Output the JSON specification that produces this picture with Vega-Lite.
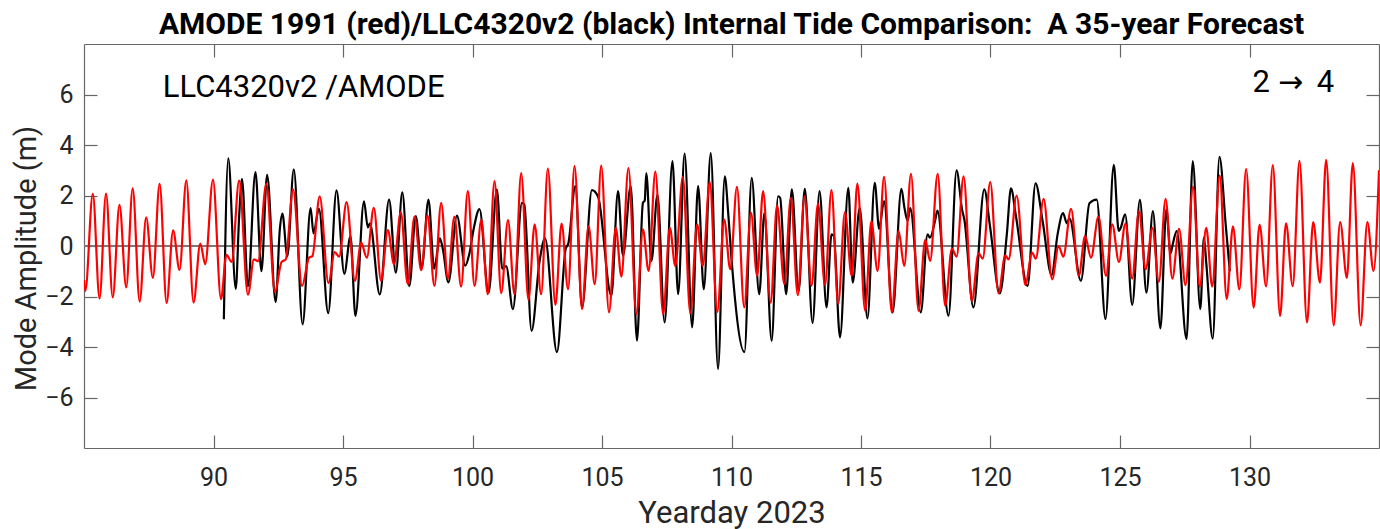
{
  "$schema": "https://vega.github.io/schema/vega-lite/v6.json",
  "width": 1295,
  "height": 404,
  "autosize": {"type": "none"},
  "padding": {"left": 84, "top": 44, "right": 1, "bottom": 81},
  "background": "white",
  "config": {"view": {"stroke": null}, "font": "Roboto", "axis": {"grid": false}},
  "title": {"text": "AMODE 1991 (red)/LLC4320v2 (black) Internal Tide Comparison: \u00a0A 35-year Forecast", "font": "Roboto", "fontSize": 30, "fontWeight": "bold", "color": "#000000", "offset": -21, "baseline": "alphabetic", "anchor": "middle", "frame": "group"},
  "datasets": {
    "red": [
      {"day":85.0,"amp":-1.35},{"day":85.05,"amp":-1.78},{"day":85.34,"amp":2.07},{"day":85.6,"amp":-2.08},{"day":85.85,"amp":2.08},{"day":86.11,"amp":-2.04},{"day":86.37,"amp":1.63},{"day":86.63,"amp":-1.64},{"day":86.88,"amp":2.28},{"day":87.15,"amp":-2.2},{"day":87.4,"amp":1.13},{"day":87.66,"amp":-1.26},{"day":87.92,"amp":2.46},{"day":88.19,"amp":-2.26},{"day":88.44,"amp":0.62},{"day":88.69,"amp":-0.95},{"day":88.95,"amp":2.6},{"day":89.23,"amp":-2.24},{"day":89.49,"amp":0.1},{"day":89.68,"amp":-0.72},{"day":89.98,"amp":2.63},{"day":90.29,"amp":-2.1},{"day":90.5,"amp":-0.35},{"day":90.7,"amp":-0.63},{"day":90.99,"amp":2.59},{"day":91.33,"amp":-1.93},{"day":91.56,"amp":-0.53},{"day":91.72,"amp":-0.6},{"day":92.04,"amp":2.46},{"day":92.37,"amp":-1.82},{"day":92.63,"amp":-0.63},{"day":92.79,"amp":-0.53},{"day":93.07,"amp":2.24},{"day":93.42,"amp":-1.58},{"day":93.69,"amp":-0.46},{"day":93.82,"amp":-0.4},{"day":94.1,"amp":1.97},{"day":94.44,"amp":-1.47},{"day":94.68,"amp":-0.24},{"day":94.85,"amp":-0.42},{"day":95.14,"amp":1.74},{"day":95.46,"amp":-1.38},{"day":95.7,"amp":0.13},{"day":95.92,"amp":-0.46},{"day":96.19,"amp":1.51},{"day":96.47,"amp":-1.38},{"day":96.73,"amp":0.63},{"day":96.97,"amp":-0.72},{"day":97.23,"amp":1.34},{"day":97.5,"amp":-1.51},{"day":97.76,"amp":1.16},{"day":98.02,"amp":-0.96},{"day":98.26,"amp":1.21},{"day":98.53,"amp":-1.58},{"day":98.79,"amp":1.71},{"day":99.05,"amp":-1.29},{"day":99.3,"amp":1.16},{"day":99.56,"amp":-1.61},{"day":99.82,"amp":2.17},{"day":100.08,"amp":-1.58},{"day":100.34,"amp":1.05},{"day":100.59,"amp":-1.91},{"day":100.85,"amp":2.57},{"day":101.11,"amp":-1.87},{"day":101.37,"amp":1.03},{"day":101.62,"amp":-1.91},{"day":101.88,"amp":2.89},{"day":102.16,"amp":-2.13},{"day":102.4,"amp":0.86},{"day":102.65,"amp":-1.91},{"day":102.91,"amp":3.07},{"day":103.2,"amp":-2.33},{"day":103.44,"amp":0.89},{"day":103.69,"amp":-1.71},{"day":103.94,"amp":3.16},{"day":104.23,"amp":-2.5},{"day":104.48,"amp":0.79},{"day":104.72,"amp":-1.51},{"day":104.97,"amp":3.18},{"day":105.27,"amp":-2.63},{"day":105.53,"amp":0.72},{"day":105.75,"amp":-1.21},{"day":106.02,"amp":3.09},{"day":106.33,"amp":-2.7},{"day":106.58,"amp":0.66},{"day":106.8,"amp":-0.99},{"day":107.06,"amp":2.95},{"day":107.36,"amp":-2.7},{"day":107.62,"amp":0.72},{"day":107.83,"amp":-0.79},{"day":108.12,"amp":2.74},{"day":108.41,"amp":-2.66},{"day":108.67,"amp":0.86},{"day":108.89,"amp":-0.79},{"day":109.16,"amp":2.53},{"day":109.45,"amp":-2.61},{"day":109.72,"amp":1.05},{"day":109.95,"amp":-0.92},{"day":110.21,"amp":2.34},{"day":110.49,"amp":-2.43},{"day":110.75,"amp":1.32},{"day":110.99,"amp":-1.18},{"day":111.22,"amp":2.17},{"day":111.51,"amp":-2.24},{"day":111.76,"amp":1.61},{"day":112.04,"amp":-1.51},{"day":112.29,"amp":1.91},{"day":112.56,"amp":-1.95},{"day":112.82,"amp":1.97},{"day":113.09,"amp":-1.58},{"day":113.34,"amp":1.68},{"day":113.61,"amp":-1.55},{"day":113.86,"amp":2.21},{"day":114.12,"amp":-2.28},{"day":114.38,"amp":1.34},{"day":114.64,"amp":-1.18},{"day":114.86,"amp":2.47},{"day":115.16,"amp":-2.57},{"day":115.4,"amp":0.99},{"day":115.64,"amp":-0.99},{"day":115.89,"amp":2.74},{"day":116.19,"amp":-2.63},{"day":116.45,"amp":0.59},{"day":116.67,"amp":-0.79},{"day":116.93,"amp":2.86},{"day":117.22,"amp":-2.57},{"day":117.48,"amp":0.24},{"day":117.67,"amp":-0.59},{"day":117.96,"amp":2.86},{"day":118.25,"amp":-2.37},{"day":118.51,"amp":-0.1},{"day":118.69,"amp":-0.42},{"day":118.96,"amp":2.76},{"day":119.28,"amp":-2.17},{"day":119.54,"amp":-0.29},{"day":119.7,"amp":-0.5},{"day":119.99,"amp":2.53},{"day":120.31,"amp":-1.87},{"day":120.57,"amp":-0.37},{"day":120.7,"amp":-0.53},{"day":121.01,"amp":2.0},{"day":121.35,"amp":-1.55},{"day":121.6,"amp":-0.26},{"day":121.75,"amp":-0.5},{"day":122.05,"amp":1.87},{"day":122.38,"amp":-1.32},{"day":122.63,"amp":0.0},{"day":122.81,"amp":-0.42},{"day":123.11,"amp":1.47},{"day":123.41,"amp":-1.18},{"day":123.65,"amp":0.39},{"day":123.88,"amp":-0.46},{"day":124.17,"amp":1.16},{"day":124.46,"amp":-1.18},{"day":124.7,"amp":0.86},{"day":124.96,"amp":-0.63},{"day":125.21,"amp":0.89},{"day":125.47,"amp":-1.29},{"day":125.73,"amp":1.38},{"day":125.99,"amp":-0.92},{"day":126.25,"amp":0.72},{"day":126.5,"amp":-1.42},{"day":126.76,"amp":1.87},{"day":127.02,"amp":-1.29},{"day":127.28,"amp":0.68},{"day":127.53,"amp":-1.55},{"day":127.82,"amp":2.34},{"day":128.08,"amp":-1.61},{"day":128.33,"amp":0.72},{"day":128.56,"amp":-1.61},{"day":128.85,"amp":2.79},{"day":129.12,"amp":-2.1},{"day":129.36,"amp":0.78},{"day":129.61,"amp":-1.72},{"day":129.87,"amp":3.05},{"day":130.16,"amp":-2.44},{"day":130.39,"amp":0.85},{"day":130.64,"amp":-1.6},{"day":130.9,"amp":3.2},{"day":131.18,"amp":-2.77},{"day":131.41,"amp":0.9},{"day":131.67,"amp":-1.59},{"day":131.93,"amp":3.37},{"day":132.22,"amp":-3.03},{"day":132.46,"amp":0.95},{"day":132.72,"amp":-1.45},{"day":132.96,"amp":3.41},{"day":133.25,"amp":-3.14},{"day":133.5,"amp":0.95},{"day":133.76,"amp":-1.26},{"day":133.99,"amp":3.28},{"day":134.29,"amp":-3.14},{"day":134.55,"amp":0.95},{"day":134.79,"amp":-0.99},{"day":135.0,"amp":3.0}
    ],
    "black": [
      {"day":90.4,"amp":-2.9},{"day":90.57,"amp":3.47},{"day":90.86,"amp":-1.7},{"day":90.99,"amp":1.17},{"day":91.1,"amp":2.65},{"day":91.33,"amp":-1.6},{"day":91.62,"amp":2.93},{"day":91.85,"amp":-1.0},{"day":92.07,"amp":2.82},{"day":92.4,"amp":-2.22},{"day":92.56,"amp":0.65},{"day":92.66,"amp":1.28},{"day":92.85,"amp":-0.41},{"day":93.1,"amp":3.04},{"day":93.44,"amp":-3.1},{"day":93.75,"amp":1.5},{"day":93.86,"amp":0.5},{"day":94.07,"amp":1.47},{"day":94.43,"amp":-2.66},{"day":94.75,"amp":2.2},{"day":95.05,"amp":-1.1},{"day":95.29,"amp":0.39},{"day":95.48,"amp":-2.77},{"day":95.81,"amp":1.77},{"day":95.96,"amp":0.74},{"day":96.04,"amp":0.9},{"day":96.42,"amp":-1.92},{"day":96.78,"amp":1.84},{"day":97.04,"amp":-1.06},{"day":97.29,"amp":2.12},{"day":97.56,"amp":-1.59},{"day":97.81,"amp":1.18},{"day":98.04,"amp":-0.88},{"day":98.3,"amp":1.84},{"day":98.52,"amp":-0.9},{"day":98.74,"amp":0.3},{"day":98.86,"amp":-0.15},{"day":99.07,"amp":-1.44},{"day":99.4,"amp":1.2},{"day":99.72,"amp":-0.78},{"day":99.88,"amp":-0.3},{"day":100.05,"amp":0.7},{"day":100.27,"amp":1.46},{"day":100.62,"amp":-1.85},{"day":100.94,"amp":2.23},{"day":101.15,"amp":-0.9},{"day":101.3,"amp":-0.8},{"day":101.56,"amp":-2.5},{"day":101.91,"amp":1.71},{"day":102.0,"amp":1.65},{"day":102.28,"amp":-3.36},{"day":102.59,"amp":-0.6},{"day":102.8,"amp":0.3},{"day":103.26,"amp":-4.2},{"day":103.6,"amp":-0.1},{"day":103.7,"amp":0.1},{"day":103.97,"amp":2.37},{"day":104.23,"amp":-2.43},{"day":104.61,"amp":2.21},{"day":104.85,"amp":1.95},{"day":105.36,"amp":-1.97},{"day":105.62,"amp":2.17},{"day":105.81,"amp":-0.39},{"day":106.11,"amp":2.37},{"day":106.35,"amp":-3.75},{"day":106.58,"amp":1.71},{"day":106.65,"amp":1.8},{"day":106.71,"amp":2.89},{"day":106.91,"amp":-0.59},{"day":107.14,"amp":2.04},{"day":107.42,"amp":-3.03},{"day":107.72,"amp":3.36},{"day":107.94,"amp":-1.91},{"day":108.19,"amp":3.66},{"day":108.48,"amp":-3.22},{"day":108.71,"amp":2.37},{"day":108.93,"amp":-1.71},{"day":109.2,"amp":3.68},{"day":109.48,"amp":-4.87},{"day":109.74,"amp":2.76},{"day":109.88,"amp":1.2},{"day":110.0,"amp":-0.5},{"day":110.5,"amp":-4.2},{"day":110.78,"amp":2.7},{"day":111.07,"amp":-1.91},{"day":111.27,"amp":1.3},{"day":111.55,"amp":-3.75},{"day":111.8,"amp":1.97},{"day":111.88,"amp":1.9},{"day":112.11,"amp":-1.91},{"day":112.33,"amp":2.24},{"day":112.59,"amp":-1.8},{"day":112.83,"amp":2.26},{"day":113.13,"amp":-3.05},{"day":113.4,"amp":2.17},{"day":113.67,"amp":-2.43},{"day":113.86,"amp":0.46},{"day":113.95,"amp":0.4},{"day":114.19,"amp":-3.62},{"day":114.51,"amp":2.3},{"day":114.68,"amp":-1.45},{"day":114.95,"amp":1.51},{"day":115.25,"amp":-2.87},{"day":115.53,"amp":2.5},{"day":115.7,"amp":0.68},{"day":115.89,"amp":1.78},{"day":116.22,"amp":-2.63},{"day":116.56,"amp":2.26},{"day":116.68,"amp":1.5},{"day":116.8,"amp":1.0},{"day":116.9,"amp":1.5},{"day":117.31,"amp":-2.63},{"day":117.57,"amp":0.46},{"day":117.66,"amp":0.33},{"day":117.87,"amp":1.05},{"day":117.95,"amp":1.4},{"day":118.38,"amp":-2.76},{"day":118.69,"amp":3.0},{"day":118.9,"amp":1.45},{"day":118.99,"amp":1.05},{"day":119.34,"amp":-2.43},{"day":119.76,"amp":2.24},{"day":119.98,"amp":0.79},{"day":120.36,"amp":-1.88},{"day":120.63,"amp":0.46},{"day":120.79,"amp":2.28},{"day":120.98,"amp":1.2},{"day":121.43,"amp":-1.58},{"day":121.74,"amp":2.48},{"day":122.01,"amp":1.0},{"day":122.36,"amp":-1.15},{"day":122.59,"amp":0.46},{"day":122.8,"amp":1.3},{"day":122.95,"amp":0.9},{"day":123.05,"amp":1.1},{"day":123.49,"amp":-1.38},{"day":123.82,"amp":1.69},{"day":124.1,"amp":1.84},{"day":124.44,"amp":-2.89},{"day":124.76,"amp":3.21},{"day":124.95,"amp":0.6},{"day":125.02,"amp":0.7},{"day":125.2,"amp":1.25},{"day":125.47,"amp":-2.33},{"day":125.77,"amp":1.83},{"day":126.02,"amp":-1.85},{"day":126.27,"amp":1.38},{"day":126.56,"amp":-3.26},{"day":126.79,"amp":1.45},{"day":126.95,"amp":-0.3},{"day":127.05,"amp":0.13},{"day":127.19,"amp":0.59},{"day":127.57,"amp":-3.68},{"day":127.81,"amp":3.36},{"day":128.1,"amp":-2.5},{"day":128.24,"amp":0.33},{"day":128.33,"amp":-0.66},{"day":128.58,"amp":-3.67},{"day":128.84,"amp":3.53},{"day":129.08,"amp":0.86},{"day":129.24,"amp":-1.0}
    ],
    "notes": [
      {"x": 88.04, "y": 6.26, "label": "LLC4320v2 /AMODE", "kind": "text"},
      {"x": 130.12, "y": 6.46, "label": "2", "kind": "text"},
      {"x": 131.1, "y": 6.46, "label": "→", "kind": "arrow"},
      {"x": 132.6, "y": 6.46, "label": "4", "kind": "text"}
    ]
  },
  "resolve": {"axis": {"x": "independent", "y": "independent"}},
  "layer": [
    {
      "layer": [
        {
          "data": {"name": "black"},
          "mark": {"type": "rule", "color": "#7a7a7a", "strokeWidth": 1.5},
          "encoding": {"y": {"datum": 0}}
        },
        {
          "data": {"name": "black"},
          "mark": {"type": "line", "color": "#000000", "strokeWidth": 2.2, "interpolate": "monotone", "clip": true},
          "encoding": {
            "x": {"field": "day", "type": "quantitative", "scale": {"domain": [85, 135], "nice": false, "zero": false},
              "axis": {"orient": "bottom", "values": [90, 95, 100, 105, 110, 115, 120, 125, 130], "tickSize": -13, "tickColor": "#666666", "tickWidth": 1.2, "domainColor": "#666666", "domainWidth": 1.2, "labelFont": "Roboto", "labelFontSize": 25, "labelColor": "#262626", "labelPadding": 30, "labelFlush": false, "labelOverlap": false, "title": "Yearday 2023", "titleFont": "Roboto", "titleFontSize": 31, "titleFontWeight": "normal", "titleColor": "#262626", "titlePadding": 8}},
            "y": {"field": "amp", "type": "quantitative", "scale": {"domain": [-8, 8], "nice": false, "zero": false},
              "axis": {"orient": "left", "values": [-6, -4, -2, 0, 2, 4, 6], "tickSize": -13, "tickColor": "#666666", "tickWidth": 1.2, "domainColor": "#666666", "domainWidth": 1.2, "labelFont": "Roboto", "labelFontSize": 25, "labelColor": "#262626", "labelPadding": 24, "labelOverlap": false, "title": "Mode Amplitude (m)", "titleFont": "Roboto", "titleFontSize": 29, "titleFontWeight": "normal", "titleColor": "#262626", "titlePadding": 3, "titleY": 214}}
          }
        },
        {
          "data": {"name": "red"},
          "mark": {"type": "line", "color": "#ff0000", "strokeWidth": 2.2, "interpolate": "monotone", "clip": true},
          "encoding": {
            "x": {"field": "day", "type": "quantitative"},
            "y": {"field": "amp", "type": "quantitative"}
          }
        },
        {
          "data": {"name": "notes"},
          "transform": [{"filter": "datum.kind === 'text'"}],
          "mark": {"type": "text", "align": "left", "baseline": "middle", "font": "Roboto", "fontSize": 31, "color": "#000000"},
          "encoding": {
            "x": {"field": "x", "type": "quantitative"},
            "y": {"field": "y", "type": "quantitative"},
            "text": {"field": "label"}
          }
        },
        {
          "data": {"name": "notes"},
          "transform": [{"filter": "datum.kind === 'arrow'"}],
          "mark": {"type": "text", "align": "left", "baseline": "middle", "font": "DejaVu Sans", "fontSize": 30, "color": "#000000"},
          "encoding": {
            "x": {"field": "x", "type": "quantitative"},
            "y": {"field": "y", "type": "quantitative"},
            "text": {"field": "label"}
          }
        }
      ]
    },
    {
      "data": {"name": "red"},
      "mark": {"type": "point", "opacity": 0},
      "encoding": {
        "x": {"field": "day", "type": "quantitative",
          "axis": {"orient": "top", "values": [90, 95, 100, 105, 110, 115, 120, 125, 130], "tickSize": -13, "tickColor": "#666666", "tickWidth": 1.2, "domainColor": "#666666", "domainWidth": 1.2, "labels": false, "title": null, "minExtent": 0, "maxExtent": 0}},
        "y": {"field": "amp", "type": "quantitative",
          "axis": {"orient": "right", "values": [-6, -4, -2, 0, 2, 4, 6], "tickSize": -13, "tickColor": "#666666", "tickWidth": 1.2, "domainColor": "#666666", "domainWidth": 1.2, "labels": false, "title": null, "minExtent": 0, "maxExtent": 0}}
      }
    }
  ]
}
